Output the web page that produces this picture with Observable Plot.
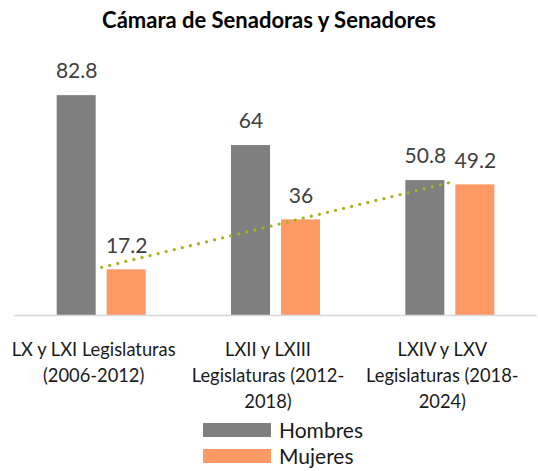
<!DOCTYPE html>
<html>
<head>
<meta charset="utf-8">
<script src="https://cdn.jsdelivr.net/npm/d3@7"></script>
<script src="https://cdn.jsdelivr.net/npm/@observablehq/plot@0.6"></script>
<style>
  html, body { margin: 0; padding: 0; background: #fff; }
  body { width: 538px; height: 471px; position: relative; overflow: hidden; font-family: Lato, "Open Sans", sans-serif; }
  #title { position: absolute; left: 0; top: 0; width: 538px; height: 40px; line-height: 40px; text-align: center; font-weight: bold; font-size: 22px; color: #000; }
  #chart { position: absolute; left: 0; top: 40px; }
  #legend { position: absolute; left: 203px; top: 417px; }
  .row { display: flex; align-items: center; height: 26px; }
  .sw { width: 68px; height: 14px; margin-right: 8px; }
  .lab { font-size: 21px; line-height: 24px; color: #1a1a1a; }
</style>
</head>
<body>
<div id="title">Cámara de Senadoras y Senadores</div>
<div id="chart"></div>
<div id="legend"></div>
<script>
const categories = [
  "LX y LXI Legislaturas\n(2006-2012)",
  "LXII y LXIII\nLegislaturas (2012-\n2018)",
  "LXIV y LXV\nLegislaturas (2018-\n2024)"
];
const seriesNames = ["Hombres", "Mujeres"];
const hombres = [82.8, 64, 50.8];
const mujeres = [17.2, 36, 49.2];
const seriesColors = ["#7f7f7f", "#ff9966"];

// layout (in category units)
const barW = 0.2237, halfGap = 0.0315;
const rows = [];
categories.forEach((c, i) => {
  rows.push({i, series: "Hombres", value: hombres[i], x1: i - halfGap - barW, x2: i - halfGap});
  rows.push({i, series: "Mujeres", value: mujeres[i], x1: i + halfGap, x2: i + halfGap + barW});
});
const trendRows = mujeres.map((v, i) => ({i, value: v}));

const chart = Plot.plot({
  width: 538,
  height: 375,
  marginLeft: 14,
  marginRight: 1,
  marginTop: 36,
  marginBottom: 100,
  style: {fontFamily: "Lato, 'Open Sans', sans-serif", background: "transparent"},
  x: {type: "linear", domain: [-0.5, 2.5], axis: null},
  y: {domain: [0, 90], axis: null},
  color: {domain: seriesNames, range: seriesColors},
  marks: [
    Plot.rectY(rows, {x1: "x1", x2: "x2", y: "value", fill: "series"}),
    Plot.ruleY([0], {stroke: "#d9d9d9", strokeWidth: 1.5}),
    Plot.linearRegressionY(trendRows, {x: "i", y: "value", ci: 0, stroke: "#a4b41e", strokeWidth: 3.3, strokeDasharray: "0 8.3", strokeLinecap: "round"}),
    Plot.text(rows, {x: d => (d.x1 + d.x2) / 2, y: "value", text: d => String(d.value), dy: -24, fontSize: 21, fill: "#404040", lineAnchor: "middle"}),
    Plot.axisX({ticks: [0, 1, 2], tickFormat: i => categories[i], tickSize: 0, tickPadding: 22, fontSize: 18.3, lineHeight: 1.43, fill: "#1a1a1a", dx: -8})
  ]
});
document.getElementById("chart").appendChild(chart);

const legend = document.getElementById("legend");
seriesNames.forEach((s, k) => {
  const row = document.createElement("div");
  row.className = "row";
  const sw = document.createElement("div");
  sw.className = "sw";
  sw.style.background = seriesColors[k];
  const lab = document.createElement("span");
  lab.className = "lab";
  lab.textContent = s;
  row.appendChild(sw);
  row.appendChild(lab);
  legend.appendChild(row);
});
</script>
</body>
</html>
